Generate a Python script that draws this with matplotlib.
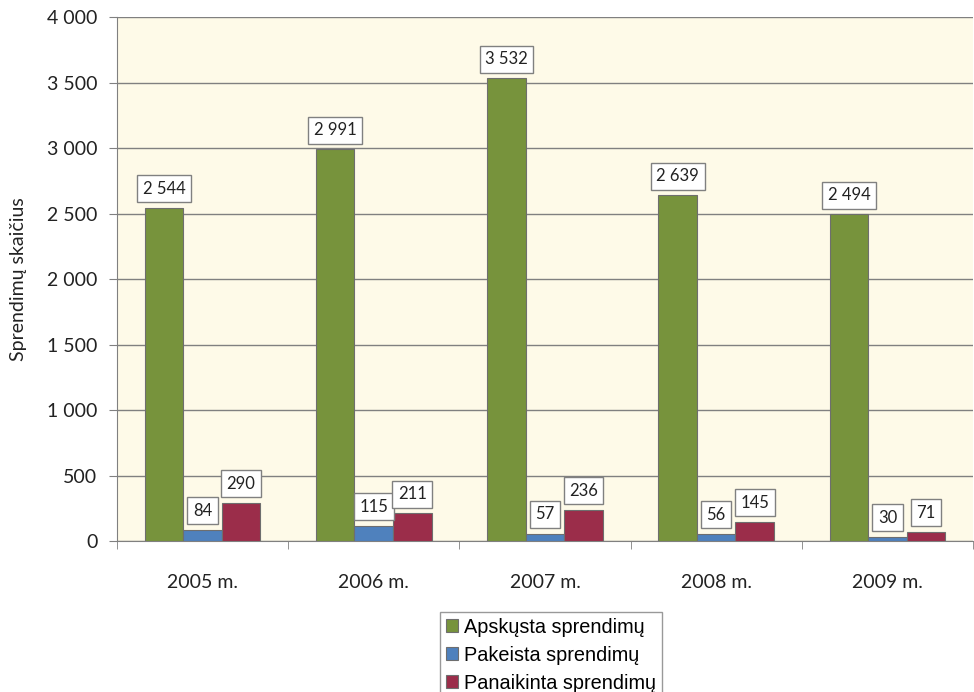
import matplotlib.pyplot as plt
import numpy as np

years = ['2005 m.', '2006 m.', '2007 m.', '2008 m.', '2009 m.']
apskusta = [2544, 2991, 3532, 2639, 2494]
pakeista = [84, 115, 57, 56, 30]
panaikinta = [290, 211, 236, 145, 71]
series_names = ['Apskųsta sprendimų', 'Pakeista sprendimų', 'Panaikinta sprendimų']
colors = ['#77933C', '#4F81BD', '#9B2D4A']


def fmt(v):
    return f'{v:,}'.replace(',', ' ')


plt.rcParams['font.family'] = ['Lato', 'DejaVu Sans']

fig = plt.figure(figsize=(9.74, 6.92), dpi=100)
ax = fig.add_axes([0.120, 0.2182, 0.879, 0.7572])
ax.set_facecolor('#FEFAE8')

x = np.arange(len(years))
w = 0.225
for i, (vals, c, name) in enumerate(zip([apskusta, pakeista, panaikinta], colors, series_names)):
    bars = ax.bar(x + (i - 1) * w, vals, w, color=c, edgecolor='#6E6E6E', linewidth=0.8,
                  label=name, zorder=3)
    for b, v in zip(bars, vals):
        ax.annotate(fmt(v), (b.get_x() + b.get_width() / 2, v), xytext=(0, 8),
                    textcoords='offset points', ha='center', va='bottom', fontsize=12,
                    color='#222222', zorder=5,
                    bbox=dict(boxstyle='square,pad=0.33', fc='white', ec='#808080', lw=1))

ax.set_xlim(-0.5, 4.5)
ax.set_ylim(0, 4000)
ax.set_yticks(range(0, 4001, 500))
ax.set_yticklabels([fmt(v) for v in range(0, 4001, 500)], fontsize=14)
ax.yaxis.grid(True, color='#808080', linewidth=1, zorder=0)
ax.set_xticks(x)
ax.set_xticklabels(years, fontsize=14)
ax.set_xticks(np.arange(-0.5, 5, 1), minor=True)
ax.tick_params(axis='x', which='major', length=0, pad=24)
ax.tick_params(axis='x', which='minor', length=6, color='#808080', direction='out')
ax.tick_params(axis='y', length=6, color='#808080', pad=8, labelcolor='#222222')
ax.tick_params(axis='x', labelcolor='#222222')
for s in ['top', 'right']:
    ax.spines[s].set_visible(False)
for s in ['left', 'bottom']:
    ax.spines[s].set_color('#808080')
ax.set_ylabel('Sprendimų skaičius', fontsize=14, labelpad=14, color='#222222')

leg = fig.legend(loc='upper left', bbox_to_anchor=(0.452, 0.116), frameon=True, fancybox=False,
                 edgecolor='#808080', prop={'family': 'Liberation Sans', 'size': 14.3},
                 handlelength=0.6, handleheight=0.6, handletextpad=0.3, labelspacing=0.45,
                 borderpad=0.3, borderaxespad=0)

fig.savefig('out.png', dpi=100)
